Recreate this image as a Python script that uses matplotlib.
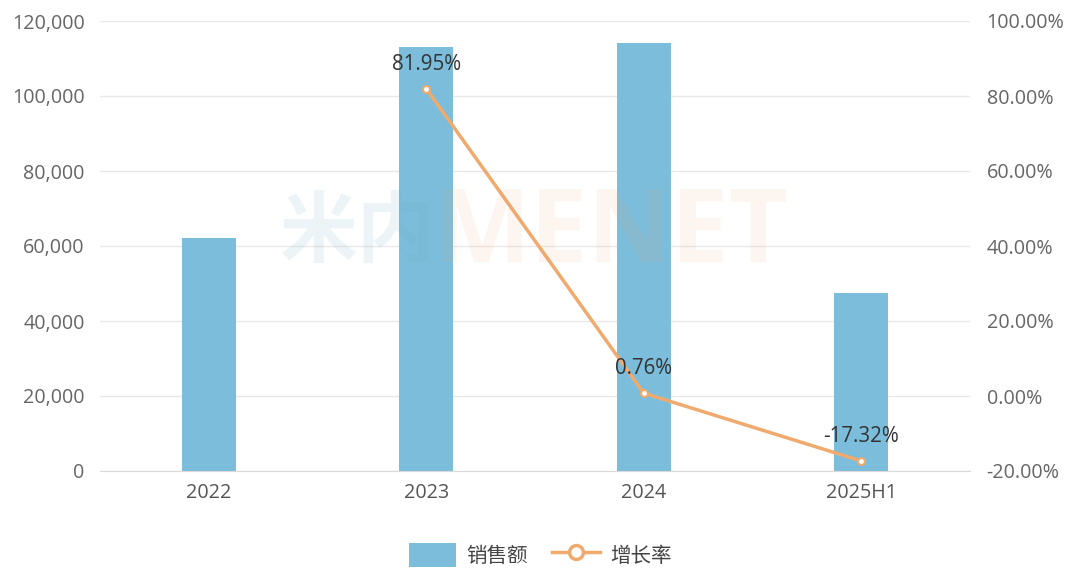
import matplotlib
matplotlib.use("Agg")
import matplotlib.pyplot as plt
from matplotlib.patches import Patch
from matplotlib.lines import Line2D
from matplotlib.ticker import FuncFormatter, MultipleLocator

plt.rcParams['font.family'] = ['Open Sans', 'Noto Sans CJK SC', 'DejaVu Sans']

categories = ['2022', '2023', '2024', '2025H1']
sales = [62100, 113100, 114000, 47500]
growth_cats = ['2023', '2024', '2025H1']
growth = [81.95, 0.76, -17.32]
growth_labels = ['81.95%', '0.76%', '-17.32%']

bar_color = '#7BBDDA'
line_color = '#F0AA6E'
tick_color = '#666666'
grid_color = '#E8E8E8'
FS = 14.2

fig = plt.figure(figsize=(10.8, 5.76), dpi=100)
ax = fig.add_axes([100/1080, 105/576, 870/1080, 450/576])
ax2 = ax.twinx()

x = list(range(len(categories)))
ax.bar(x, sales, width=0.25, color=bar_color, zorder=2)
ax.set_xlim(-0.5, len(categories) - 0.5)
ax.set_ylim(0, 120000)
ax.yaxis.set_major_locator(MultipleLocator(20000))
ax.yaxis.set_major_formatter(FuncFormatter(lambda v, p: f'{int(v):,}'))
ax.set_xticks(x)
ax.set_xticklabels(categories)
ax.grid(axis='y', color=grid_color, linewidth=1, zorder=0)
ax.set_axisbelow(True)
for s in ['top', 'right', 'left']:
    ax.spines[s].set_visible(False)
ax.spines['bottom'].set_color('#D9D9D9')
ax.tick_params(axis='y', length=0, colors=tick_color, labelsize=FS, pad=11)
ax.tick_params(axis='x', length=0, colors='#555555', labelsize=FS, pad=9)

gx = [categories.index(c) for c in growth_cats]
ax2.plot(gx, growth, color=line_color, linewidth=2.5, marker='o', markersize=5,
         markerfacecolor='white', markeredgecolor=line_color, markeredgewidth=1.5, zorder=5)
for xi, yi, lab in zip(gx, growth, growth_labels):
    ax2.annotate(lab, (xi, yi), xytext=(0, 10), textcoords='offset points',
                 ha='center', va='bottom', fontsize=14.8, color='#333333', zorder=8)
ax2.set_ylim(-20, 100)
ax2.yaxis.set_major_locator(MultipleLocator(20))
ax2.yaxis.set_major_formatter(FuncFormatter(lambda v, p: f'{v:.2f}%'))
for s in ['top', 'right', 'left', 'bottom']:
    ax2.spines[s].set_visible(False)
ax2.tick_params(axis='y', length=0, colors=tick_color, labelsize=FS, pad=12)

# faint watermark
fig.text(0.402, 0.592, '米内', fontsize=56, color='#6FA8C0', alpha=0.12, ha='right', va='center',
         fontweight='bold', zorder=10)
fig.text(0.402, 0.592, 'MENET', fontsize=74, color='#F2A070', alpha=0.1, ha='left', va='center',
         fontweight='bold', zorder=10)

handles = [Patch(facecolor=bar_color, edgecolor='none', label='销售额'),
           Line2D([0], [0], color=line_color, linewidth=2.5, marker='o', markersize=10,
                  markerfacecolor='white', markeredgecolor=line_color, markeredgewidth=2.5,
                  label='增长率')]
fig.legend(handles=handles, loc='center', bbox_to_anchor=(0.5, 21/576), ncol=2,
           frameon=False, fontsize=14.8, handlelength=2.3, handleheight=1.4,
           columnspacing=1.2, handletextpad=0.5, labelcolor='#444444')

fig.savefig('out.png', dpi=100)
